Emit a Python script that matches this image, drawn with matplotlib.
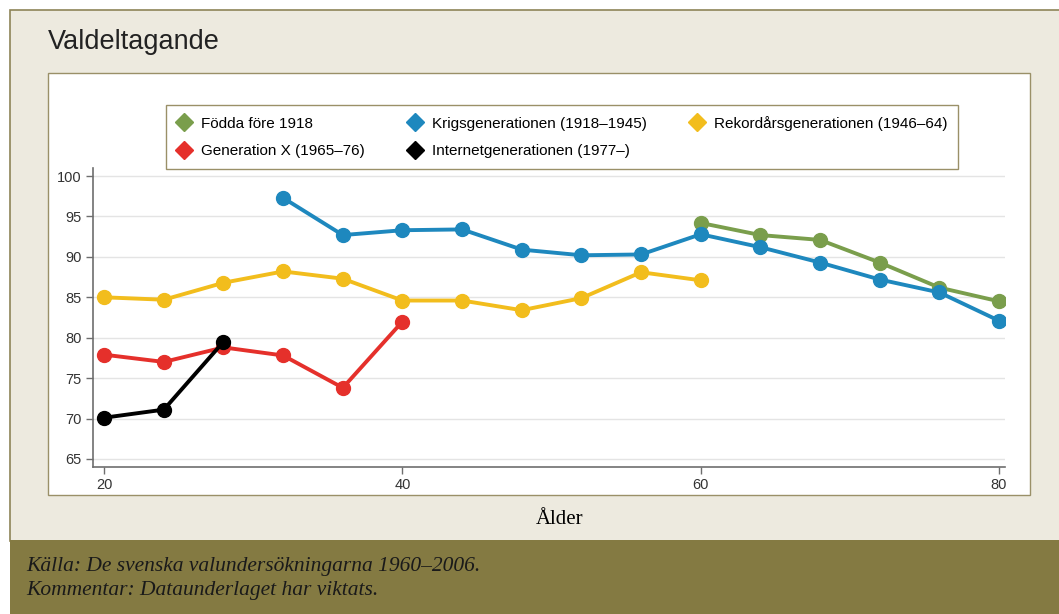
import matplotlib.pyplot as plt
from matplotlib.patches import Rectangle
from matplotlib.lines import Line2D

# data
fodda_x = [60, 64, 68, 72, 76, 80]
fodda_y = [94.2, 92.7, 92.1, 89.3, 86.2, 84.5]

krig_x = [32, 36, 40, 44, 48, 52, 56, 60, 64, 68, 72, 76, 80]
krig_y = [97.3, 92.7, 93.3, 93.4, 90.9, 90.2, 90.3, 92.8, 91.2, 89.3, 87.2, 85.6, 82.1]

rekord_x = [20, 24, 28, 32, 36, 40, 44, 48, 52, 56, 60]
rekord_y = [85.0, 84.7, 86.8, 88.2, 87.3, 84.6, 84.6, 83.4, 84.9, 88.1, 87.1]

genx_x = [20, 24, 28, 32, 36, 40]
genx_y = [77.9, 77.0, 78.8, 77.8, 73.8, 82.0]

internet_x = [20, 24, 28]
internet_y = [70.1, 71.1, 79.5]

labels = ['Födda före 1918', 'Krigsgenerationen (1918–1945)', 'Rekordårsgenerationen (1946–64)',
          'Generation X (1965–76)', 'Internetgenerationen (1977–)']
colors = ['#7A9E4C', '#1E88BE', '#F2BD1D', '#E5302B', '#000000']

yticks = [65, 70, 75, 80, 85, 90, 95, 100]
xticks = [20, 40, 60, 80]

W, H = 1059, 614
fig = plt.figure(figsize=(W / 100, H / 100), dpi=100)
fig.patch.set_facecolor('white')

def px(x0, y0, x1, y1, **kw):
    # rectangle in pixel coords, origin top-left
    return Rectangle((x0 / W, 1 - y1 / H), (x1 - x0) / W, (y1 - y0) / H,
                     transform=fig.transFigure, zorder=-5, **kw)

sans = ['Liberation Sans', 'DejaVu Sans']
olive = '#847A42'
fig.patches.append(px(10, 10, 1065, 541, facecolor='#EDEADF', edgecolor='#8E8458', lw=1.2))
fig.patches.append(px(10, 540, 1065, 620, facecolor=olive, edgecolor='none'))
fig.patches.append(px(48, 73, 1030, 495, facecolor='white', edgecolor='#9A9068', lw=1.0))

fig.text(48 / W, 1 - 42 / H, 'Valdeltagande', fontsize=19.5, family=sans,
         va='center', ha='left', color='#222222')

ax = fig.add_axes([93 / W, 1 - 467 / H, (1005 - 93) / W, (467 - 168) / H])
ax.set_facecolor('none')

series = [(fodda_x, fodda_y), (krig_x, krig_y), (rekord_x, rekord_y), (genx_x, genx_y), (internet_x, internet_y)]
for (xs, ys), c in zip(series, colors):
    ax.plot(xs, ys, color=c, lw=2.8, marker='o', markersize=10, zorder=3)

ax.set_xlim(19.25, 80.4)
ax.set_ylim(64.0, 101.0)
ax.set_xticks(xticks)
ax.set_yticks(yticks)
ax.yaxis.grid(True, color='#E4E4E4', lw=1.0)
ax.set_axisbelow(True)
for s in ['top', 'right']:
    ax.spines[s].set_visible(False)
for s in ['left', 'bottom']:
    ax.spines[s].set_color('#6E6E6E')
    ax.spines[s].set_linewidth(1.2)
ax.tick_params(length=5, width=1, color='#6E6E6E', labelsize=10.5, labelcolor='#333333', pad=3)
for t in ax.get_xticklabels() + ax.get_yticklabels():
    t.set_family(sans)

handles = [Line2D([], [], ls='none', marker='D', markersize=9, color=c) for c in colors]
order = [0, 3, 1, 4, 2]
leg = ax.legend([handles[i] for i in order], [labels[i] for i in order], ncol=3,
                loc='upper left', bbox_to_anchor=(166 / W, 1 - 105 / H), bbox_transform=fig.transFigure,
                frameon=True, fancybox=False, edgecolor='#9A9068', framealpha=1,
                prop={'family': sans, 'size': 11},
                handlelength=1.0, handletextpad=0.6, columnspacing=2.8, labelspacing=0.9,
                borderpad=0.7, borderaxespad=0)
leg.get_frame().set_linewidth(1.0)

fig.text(560 / W, 1 - 519 / H, 'Ålder', fontsize=15, family='Liberation Serif', ha='center', va='center')
fig.text(26 / W, 1 - 567 / H, 'Källa: De svenska valundersökningarna 1960–2006.', fontsize=15.5,
         family='Liberation Serif', style='italic', ha='left', va='center', color='#1a1a1a')
fig.text(26 / W, 1 - 591 / H, 'Kommentar: Dataunderlaget har viktats.', fontsize=15.5,
         family='Liberation Serif', style='italic', ha='left', va='center', color='#1a1a1a')

fig.savefig('out.png', dpi=100)
